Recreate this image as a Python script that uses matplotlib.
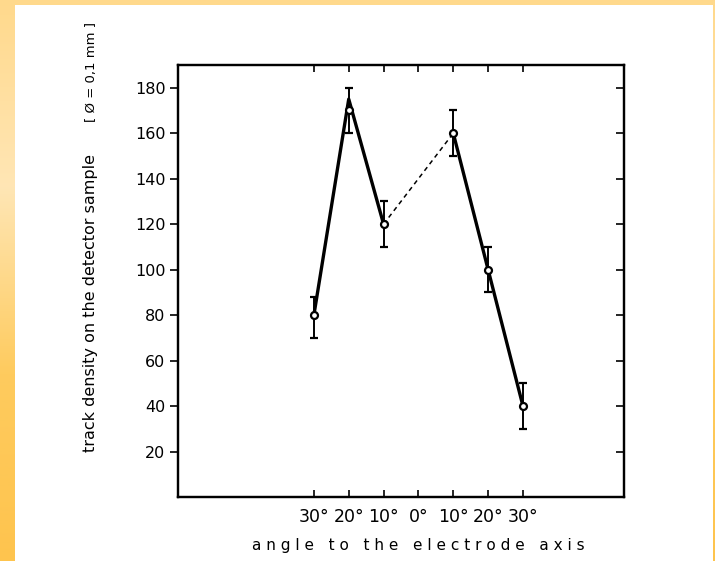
import numpy as np
import matplotlib
matplotlib.use("Agg")
import matplotlib.pyplot as plt
from matplotlib.patches import Rectangle

# angle to the electrode axis (deg), measured values and error bars
angles = [-30, -20, -10, 10, 20, 30]
density = [80, 170, 120, 160, 100, 40]
err_low = [10, 10, 10, 10, 10, 10]
err_high = [8, 10, 10, 10, 10, 10]

# hand-drawn solid curves (left branch peaks a bit above the point)
left_x = [-30, -20, -10]
left_y = [80, 175, 120]
right_x = [10, 20, 30]
right_y = [160, 100, 40]
gap_x = [-10, 10]
gap_y = [120, 160]

xticks = [-30, -20, -10, 0, 10, 20, 30]
xticklabels = ['30°', '20°', '10°', '0°', '10°', '20°', '30°']
yticks = [20, 40, 60, 80, 100, 120, 140, 160, 180]

W, H = 715, 561
fig = plt.figure(figsize=(W / 100, H / 100), dpi=100)
fig.patch.set_facecolor('#FECB5E')

# slide background: yellow border with white panel
bg = fig.add_axes([0, 0, 1, 1], zorder=-10)
grad = np.linspace(0, 1, 256).reshape(-1, 1)
bg.imshow(grad, aspect='auto', extent=[0, 1, 0, 1], origin='upper',
          cmap=matplotlib.colors.LinearSegmentedColormap.from_list(
              'slide', ['#FFD98C', '#FFE6B5', '#FECB5E', '#FEC44E']))
bg.add_patch(Rectangle((15 / W, 0), (713 - 15) / W, (H - 5) / H,
                       facecolor='white', edgecolor='none'))
bg.set_xlim(0, 1)
bg.set_ylim(0, 1)
bg.axis('off')

ax = fig.add_axes([178 / W, 1 - 497 / H, (624 - 178) / W, (497 - 65) / H])
ax.set_facecolor('none')

ax.plot(left_x, left_y, color='black', lw=2.4, solid_capstyle='round')
ax.plot(right_x, right_y, color='black', lw=2.4, solid_capstyle='round')
ax.plot(gap_x, gap_y, color='black', lw=1.1, ls=(0, (3, 2.5)))
ax.errorbar(angles, density, yerr=[err_low, err_high], fmt='o', ms=5,
            mfc='white', mec='black', mew=1.6, ecolor='black',
            elinewidth=1.4, capsize=3, capthick=1.2, zorder=5)

ax.set_xlim(-69, 59)
ax.set_ylim(0, 190)

ax.set_xticks(xticks)
ax.set_xticklabels(xticklabels, fontsize=12.5, fontweight='medium')
ax.set_yticks(yticks)
ax.set_yticklabels([str(v) for v in yticks], fontsize=11.5, fontweight='medium')
ax.tick_params(axis='x', direction='in', top=True, length=5, width=1.2, pad=8)
ax.tick_params(axis='y', direction='out', length=6, width=1.2, pad=3)

# right side ticks point inward
ax2 = ax.twinx()
ax2.set_ylim(ax.get_ylim())
ax2.set_yticks(yticks)
ax2.set_yticklabels([])
ax2.tick_params(axis='y', direction='in', length=6, width=1.2)

for a in (ax, ax2):
    for s in a.spines.values():
        s.set_linewidth(1.6)

ax.text(0, -0.095, 'a n g l e   t o   t h e   e l e c t r o d e   a x i s',
        transform=ax.get_xaxis_transform(), ha='center', va='top',
        fontsize=11, fontweight='medium')

fig.text(90 / W, 1 - 303 / H, 'track density on the detector sample',
         rotation=90, ha='center', va='center', fontsize=11.5,
         family='Liberation Sans Narrow')
fig.text(92 / W, 1 - 72 / H, '[ Ø = 0,1 mm ]',
         rotation=90, ha='center', va='center', fontsize=9.5,
         family='Liberation Sans Narrow')

fig.savefig('out.png', dpi=100)
